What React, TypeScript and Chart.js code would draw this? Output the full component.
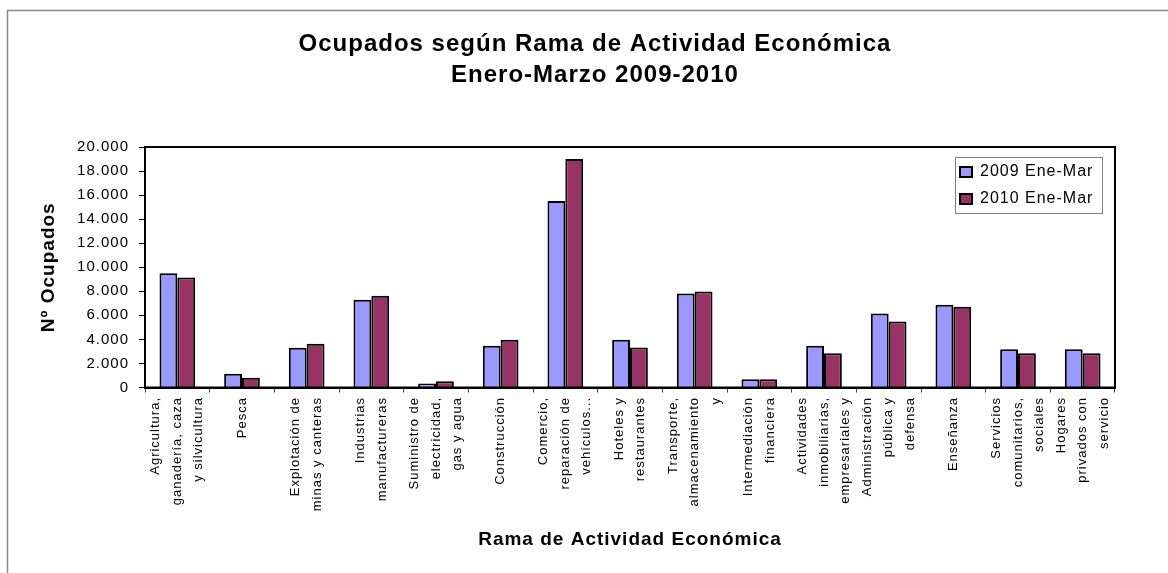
import React, { useEffect, useRef } from 'react';
import { Chart, registerables } from 'chart.js';

Chart.register(...registerables);

const FONT = "'Liberation Sans', Arial, sans-serif";

const categories: string[][] = [
  ['Agricultura,', 'ganadería, caza', 'y silvicultura'],
  ['Pesca'],
  ['Explotación de', 'minas y canteras'],
  ['Industrias', 'manufactureras'],
  ['Suministro de', 'electricidad,', 'gas y agua'],
  ['Construcción'],
  ['Comercio,', 'reparación de', 'vehículos...'],
  ['Hoteles y', 'restaurantes'],
  ['Transporte,', 'almacenamiento', 'y'],
  ['Intermediación', 'financiera'],
  ['Actividades', 'inmobiliarias,', 'empresariales y'],
  ['Administración', 'pública y', 'defensa'],
  ['Enseñanza'],
  ['Servicios', 'comunitarios,', 'sociales'],
  ['Hogares', 'privados con', 'servicio'],
];

const seriesNames = ['2009 Ene-Mar', '2010 Ene-Mar'];
const values2009 = [9500, 1150, 3300, 7300, 330, 3480, 15500, 3980, 7820, 680, 3480, 6150, 6880, 3180, 3180];
const values2010 = [9150, 810, 3640, 7640, 530, 3980, 19000, 3320, 7980, 680, 2850, 5480, 6710, 2850, 2850];

const yMin = 0;
const yMax = 20000;
const yStep = 2000;

const titleLines = ['Ocupados según Rama de Actividad Económica', 'Enero-Marzo 2009-2010'];
const yTitle = 'Nº Ocupados';
const xTitle = 'Rama de Actividad Económica';

const fmt = (v: number) => String(v).replace(/\B(?=(\d{3})+(?!\d))/g, '.');

const helperPlugin = {
  id: 'helper',
  beforeUpdate(chart: any) {
    chart.ctx.letterSpacing = '1px';
  },
  afterLayout(chart: any) {
    const tb = chart.titleBlock;
    if (tb) {
      tb.left = 11;
      tb.right = 1179;
    }
    const lg = chart.legend;
    if (lg) {
      const w = lg.width;
      const h = lg.height;
      lg.left = 949;
      lg.top = 153;
      lg.right = 949 + w;
      lg.bottom = 153 + h;
    }
  },
  beforeDraw(chart: any) {
    const ctx = chart.ctx;
    ctx.letterSpacing = '1px';
    ctx.save();
    ctx.strokeStyle = '#8a8a8a';
    ctx.lineWidth = 1.5;
    ctx.strokeRect(7.5, 10.5, 1200, 600);
    ctx.restore();
  },
  afterDatasetsDraw(chart: any) {
    const ctx = chart.ctx;
    const ca = chart.chartArea;
    ctx.save();
    ctx.strokeStyle = '#000';
    ctx.lineWidth = 2;
    ctx.strokeRect(ca.left, ca.top, ca.right - ca.left, ca.bottom - ca.top);
    ctx.restore();
  },
  afterDraw(chart: any) {
    const ctx = chart.ctx;
    const xs = chart.scales.x;
    ctx.save();
    ctx.letterSpacing = '1px';
    ctx.font = `13px ${FONT}`;
    ctx.fillStyle = '#000';
    ctx.textAlign = 'right';
    ctx.textBaseline = 'middle';
    categories.forEach((lines, i) => {
      const cx = xs.getPixelForValue(i);
      lines.forEach((line, j) => {
        const x = cx + (j - (lines.length - 1) / 2) * 21.5;
        ctx.save();
        ctx.translate(x, xs.top + 9.5);
        ctx.rotate(-Math.PI / 2);
        ctx.fillText(line, 0, 0);
        ctx.restore();
      });
    });
    const lg = chart.legend;
    if (lg) {
      ctx.strokeStyle = '#808080';
      ctx.lineWidth = 1;
      ctx.strokeRect(lg.left + 6.5, lg.top + 4.5, 147, 56);
    }
    ctx.restore();
  },
};

export default function App() {
  const ref = useRef<HTMLCanvasElement | null>(null);
  useEffect(() => {
    if (!ref.current) return;
    Chart.defaults.font.family = FONT;
    Chart.defaults.color = '#000';
    const chart = new Chart(ref.current, {
      type: 'bar',
      data: {
        labels: categories.map((l) => l.join(' ')),
        datasets: [
          {
            label: seriesNames[0],
            data: values2009,
            backgroundColor: '#9999FF',
            borderColor: '#000',
            borderWidth: 2,
            categoryPercentage: 0.552,
            barPercentage: 1,
          },
          {
            label: seriesNames[1],
            data: values2010,
            backgroundColor: '#993366',
            borderColor: '#000',
            borderWidth: 2,
            categoryPercentage: 0.552,
            barPercentage: 1,
          },
        ],
      },
      options: {
        responsive: false,
        animation: false,
        layout: { padding: { left: 0, right: 53, top: 0, bottom: 0 } },
        plugins: {
          title: {
            display: true,
            text: titleLines,
            color: '#000',
            font: { size: 24, weight: 'bold', family: FONT, lineHeight: 31 / 24 },
            padding: { top: 28.5, bottom: 56.5 },
          },
          legend: {
            position: 'chartArea',
            align: 'start',
            labels: {
              boxWidth: 12,
              boxHeight: 10,
              padding: 11,
              color: '#000',
              font: { size: 16, family: FONT },
            },
          },
          tooltip: { enabled: false },
        },
        scales: {
          x: {
            grid: {
              drawOnChartArea: false,
              drawTicks: true,
              tickLength: 5,
              color: '#404040',
              offset: true,
            },
            border: { display: true, color: '#000', width: 2 },
            ticks: { display: false },
            title: {
              display: true,
              text: xTitle,
              color: '#000',
              font: { size: 19, weight: 'bold', family: FONT },
              padding: { top: 0, bottom: 21.6 },
            },
            afterFit: (s: any) => {
              s.height = 185.5;
            },
          },
          y: {
            min: yMin,
            max: yMax,
            grid: { drawOnChartArea: false, drawTicks: true, tickLength: 6, color: '#000' },
            border: { display: true, color: '#000', width: 2 },
            ticks: {
              stepSize: yStep,
              padding: 10,
              color: '#000',
              font: { size: 15, family: FONT },
              callback: (v: any) => fmt(Number(v)),
            },
            title: {
              display: true,
              text: yTitle,
              color: '#000',
              font: { size: 19, weight: 'bold', family: FONT },
              padding: { top: 37.6, bottom: 0 },
            },
            afterFit: (s: any) => {
              s.width = 145;
            },
          },
        },
      },
      plugins: [helperPlugin],
    } as any);
    return () => chart.destroy();
  }, []);
  return (
    <div style={{ position: 'fixed', left: 0, top: 0, width: 1168, height: 573 }}>
      <canvas ref={ref} width={1168} height={573} />
    </div>
  );
}
